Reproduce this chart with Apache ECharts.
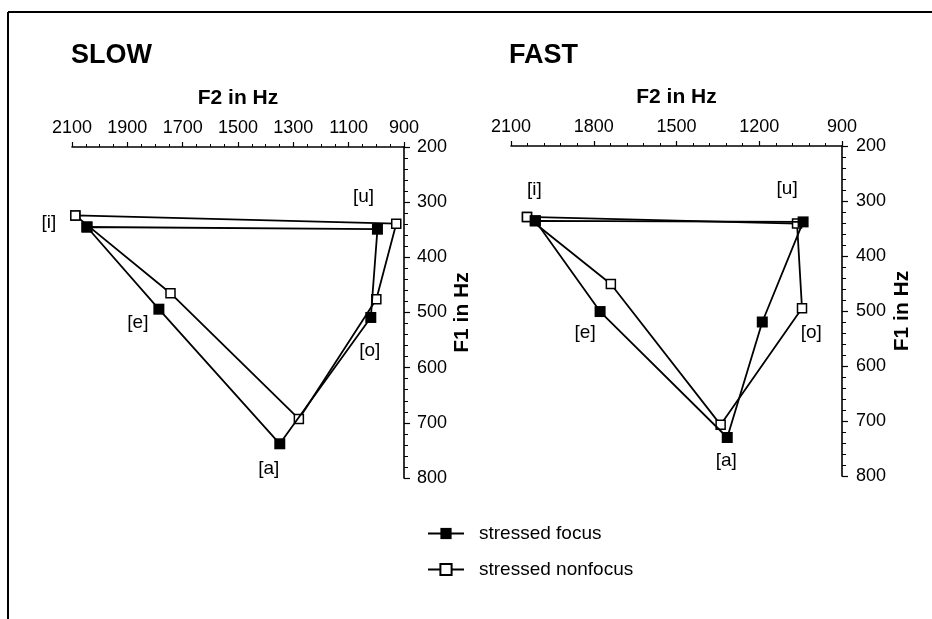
<!DOCTYPE html>
<html>
<head>
<meta charset="utf-8">
<script src="https://cdn.jsdelivr.net/npm/echarts@6/dist/echarts.min.js"></script>
<style>
  html, body { margin: 0; padding: 0; background: #fff; }
  #chart { width: 932px; height: 619px; }
</style>
</head>
<body>
<div id="chart"></div>
<script>
// Vowel order around the polygon: [i] -> [e] -> [a] -> [o] -> [u] -> back to [i]
const vowels = ['[i]', '[e]', '[a]', '[o]', '[u]'];

// SLOW speaking rate (Hz)
const slowFocusF2    = [2046, 1786, 1349, 1020, 996];
const slowFocusF1    = [345, 494, 738, 509, 349];
const slowNonfocusF2 = [2088, 1744, 1280, 1000, 928];
const slowNonfocusF1 = [324, 465, 693, 476, 339];

// FAST speaking rate (Hz)
const fastFocusF2    = [2012, 1777, 1316, 1189, 1041];
const fastFocusF1    = [336, 501, 730, 520, 338];
const fastNonfocusF2 = [2042, 1738, 1340, 1045, 1063];
const fastNonfocusF1 = [329, 451, 707, 495, 341];

// Axis ranges and tick steps
const F2_MIN = 900, F2_MAX = 2100;
const F1_MIN = 200, F1_MAX = 800, F1_STEP = 100;
const slowF2Step = 200, fastF2Step = 300;

const seriesNames = ['stressed focus', 'stressed nonfocus'];

// Pixel offsets of the vowel tags relative to the focus markers
const slowTagOffsets = [[-38, -4], [-21, 14], [-11, 25], [-1, 33], [-14, -32]];
const fastTagOffsets = [[-1, -31], [-15, 21], [-1, 23], [49, 11], [-16, -33]];

const FONT = '"Liberation Sans", Arial, Helvetica, sans-serif';

// F2 is plotted relative to F2_MIN so that ticks start on the axis origin
function polygon(f2, f1, tagOffsets) {
  const pts = [];
  const order = [0, 1, 2, 3, 4, 0];
  order.forEach((k, idx) => {
    const item = { value: [f2[k] - F2_MIN, f1[k]] };
    if (tagOffsets && idx < 5) {
      item.label = {
        show: true,
        formatter: vowels[k],
        position: 'inside',
        offset: tagOffsets[k],
        color: '#000',
        fontSize: 19,
        fontFamily: FONT
      };
    }
    pts.push(item);
  });
  return pts;
}

function xAxisFor(gridIndex, step, minorSplit) {
  return {
    gridIndex: gridIndex,
    type: 'value',
    position: 'top',
    inverse: true,
    min: 0,
    max: F2_MAX - F2_MIN,
    interval: step,
    name: 'F2 in Hz',
    nameLocation: 'middle',
    nameGap: 38,
    nameTextStyle: { fontSize: 21, fontWeight: 'bold', color: '#000', fontFamily: FONT },
    axisLine: { show: true, onZero: false, lineStyle: { color: '#000', width: 1.6 } },
    axisTick: { show: true, inside: false, length: 5, lineStyle: { color: '#000', width: 1.2 } },
    minorTick: { show: true, splitNumber: minorSplit, length: 3, lineStyle: { color: '#000', width: 1 } },
    splitLine: { show: false },
    axisLabel: {
      margin: 10,
      color: '#000',
      fontSize: 18,
      fontFamily: FONT,
      formatter: v => String(v + F2_MIN)
    }
  };
}

function yAxisFor(gridIndex, nameGap, labelMargin) {
  return {
    gridIndex: gridIndex,
    type: 'value',
    position: 'right',
    inverse: true,
    min: F1_MIN,
    max: F1_MAX,
    interval: F1_STEP,
    name: 'F1 in Hz',
    nameLocation: 'middle',
    nameRotate: 90,
    nameGap: nameGap,
    nameTextStyle: { fontSize: 21, fontWeight: 'bold', color: '#000', fontFamily: FONT },
    axisLine: { show: true, onZero: false, lineStyle: { color: '#000', width: 1.6 } },
    axisTick: { show: true, inside: false, length: 6, lineStyle: { color: '#000', width: 1.2 } },
    minorTick: { show: true, splitNumber: 5, length: 4, lineStyle: { color: '#000', width: 1 } },
    splitLine: { show: false },
    axisLabel: { margin: labelMargin, color: '#000', fontSize: 18, fontFamily: FONT }
  };
}

function focusSeries(idx, f2, f1, offsets) {
  return {
    name: seriesNames[0],
    type: 'line',
    xAxisIndex: idx,
    yAxisIndex: idx,
    z: 3,
    data: polygon(f2, f1, offsets),
    symbol: 'rect',
    symbolSize: 11,
    lineStyle: { color: '#000', width: 1.8 },
    itemStyle: { color: '#000', borderColor: '#000', borderWidth: 0 },
    emphasis: { disabled: true },
    animation: false
  };
}

function nonfocusSeries(idx, f2, f1) {
  return {
    name: seriesNames[1],
    type: 'line',
    xAxisIndex: idx,
    yAxisIndex: idx,
    z: 2,
    data: polygon(f2, f1, null),
    symbol: 'rect',
    symbolSize: 9,
    lineStyle: { color: '#000', width: 1.8 },
    itemStyle: { color: '#fff', borderColor: '#000', borderWidth: 1.5 },
    emphasis: { disabled: true },
    animation: false
  };
}

const chart = echarts.init(document.getElementById('chart'), null, { renderer: 'canvas' });

chart.setOption({
  backgroundColor: '#fff',
  animation: false,
  title: [
    { text: 'SLOW', left: 71, top: 42, padding: 0,
      textStyle: { fontSize: 27, fontWeight: 'bold', color: '#000', fontFamily: FONT } },
    { text: 'FAST', left: 509, top: 42, padding: 0,
      textStyle: { fontSize: 27, fontWeight: 'bold', color: '#000', fontFamily: FONT } }
  ],
  grid: [
    { left: 72, top: 147, width: 332, height: 331 },
    { left: 511, top: 146, width: 331, height: 330 }
  ],
  xAxis: [xAxisFor(0, slowF2Step, 4), xAxisFor(1, fastF2Step, 5)],
  yAxis: [yAxisFor(0, 48, 13), yAxisFor(1, 50, 14)],
  legend: {
    orient: 'vertical',
    left: 427,
    top: 524,
    padding: 0,
    itemWidth: 36,
    itemHeight: 14,
    itemGap: 17,
    selectedMode: false,
    data: seriesNames,
    textStyle: { color: '#000', fontSize: 19, fontFamily: FONT, padding: [0, 0, 0, 10] }
  },
  graphic: [
    { type: 'line', shape: { x1: 8, y1: 12, x2: 932, y2: 12 }, style: { stroke: '#000', lineWidth: 2 } },
    { type: 'line', shape: { x1: 8, y1: 12, x2: 8, y2: 619 }, style: { stroke: '#000', lineWidth: 2 } }
  ],
  series: [
    nonfocusSeries(0, slowNonfocusF2, slowNonfocusF1),
    focusSeries(0, slowFocusF2, slowFocusF1, slowTagOffsets),
    nonfocusSeries(1, fastNonfocusF2, fastNonfocusF1),
    focusSeries(1, fastFocusF2, fastFocusF1, fastTagOffsets)
  ]
});
</script>
</body>
</html>
